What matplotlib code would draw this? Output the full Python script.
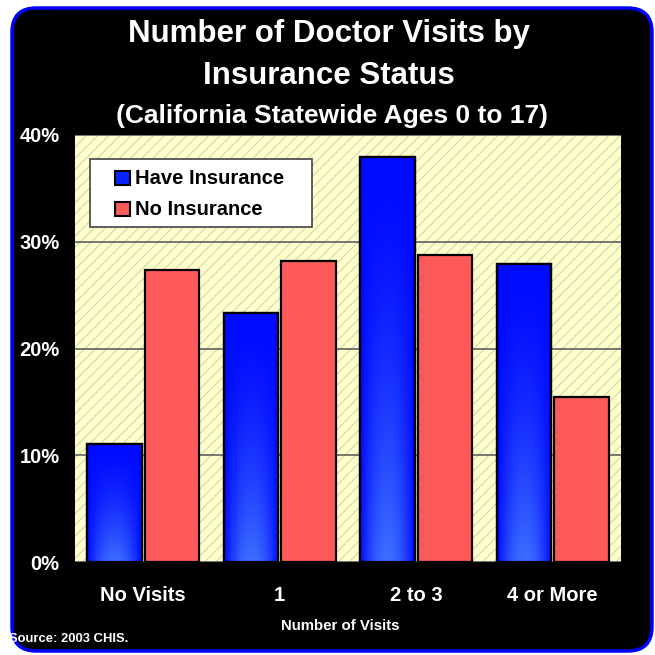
import numpy as np
import matplotlib
matplotlib.use('Agg')
from matplotlib import pyplot as plt
from matplotlib.patches import FancyBboxPatch, Rectangle

categories = ['No Visits', '1', '2 to 3', '4 or More']
have_insurance = [11.1, 23.3, 37.9, 27.9]
no_insurance = [27.4, 28.2, 28.8, 15.5]
series_names = ['Have Insurance', 'No Insurance']
y_ticks = [0, 10, 20, 30, 40]
y_labels = ['0%', '10%', '20%', '30%', '40%']

plt.rcParams['font.family'] = ['Liberation Sans', 'DejaVu Sans']
plt.rcParams['font.weight'] = 'bold'
plt.rcParams['hatch.color'] = '#c8c8a8'
plt.rcParams['hatch.linewidth'] = 0.6

W = H = 655
fig = plt.figure(figsize=(6.55, 6.55), dpi=100)
fig.patch.set_facecolor('white')

# rounded black panel with blue rim
panel = FancyBboxPatch((12 / W, 4 / H), 640 / W, 643 / H,
                       boxstyle='round,pad=0,rounding_size=0.037',
                       transform=fig.transFigure, facecolor='black',
                       edgecolor='#0000ff', linewidth=2.5, zorder=-1)
fig.patches.append(panel)

ax = fig.add_axes([75 / W, 1 - 562 / H, 546 / W, 427 / H])
ax.set_facecolor('#ffffcc')
ax.patch.set_hatch('///')
ax.patch.set_edgecolor('#c8c8a8')
ax.patch.set_linewidth(0)

blue = '#0a24ff'
red = '#ff5a5a'
x = np.arange(len(categories))
w = 0.40
off = 0.21
bars_have = ax.bar(x - off, have_insurance, w, color=blue,
                   edgecolor='black', linewidth=1.6, zorder=3)
bars_no = ax.bar(x + off, no_insurance, w, color=red,
                 edgecolor='black', linewidth=1.6, zorder=3)

# blue gradient: dark at top, lighter toward lower middle
ny, nx = 120, 40
yy = np.linspace(0, 1, ny)[:, None]
xx = np.linspace(-1, 1, nx)[None, :]
light = (1 - yy) ** 1.5 * (1 - np.abs(xx) ** 2)
light = np.clip(light, 0, 1)
dark = np.array([0, 10, 255]) / 255
bright = np.array([60, 110, 255]) / 255
img = dark[None, None, :] + (bright - dark)[None, None, :] * light[:, :, None]
for b in bars_have:
    x0, y0 = b.get_x(), b.get_y()
    im = ax.imshow(img[::-1], extent=[x0, x0 + b.get_width(), y0, y0 + b.get_height()],
                   aspect='auto', zorder=3.5, interpolation='bilinear')
    im.set_clip_path(b)
    edge = Rectangle((x0, y0), b.get_width(), b.get_height(), fill=False,
                     edgecolor='black', linewidth=1.6, zorder=4)
    ax.add_patch(edge)

ax.set_xlim(-0.5, len(categories) - 0.5)
ax.set_ylim(0, 40)
ax.set_yticks(y_ticks)
ax.set_yticklabels(y_labels)
ax.set_xticks(x)
ax.set_xticklabels(categories)
ax.tick_params(axis='y', length=0, pad=11, labelsize=14.5, labelcolor='white')
ax.tick_params(axis='x', length=0, pad=17, labelsize=14.5, labelcolor='white')
for lab in ax.get_xticklabels() + ax.get_yticklabels():
    lab.set_fontweight('bold')
ax.yaxis.grid(True, color='#606060', linewidth=1.2, zorder=1)
ax.set_axisbelow(True)
for s in ax.spines.values():
    s.set_visible(False)

# legend box drawn by hand (axes pixels -> axes fraction)
def fx(px):
    return (px - 75) / 546

def fy(py):
    return (562 - py) / 427

ax.add_patch(Rectangle((fx(90), fy(227)), fx(312) - fx(90), fy(159) - fy(227),
                       transform=ax.transAxes, facecolor='white', edgecolor='#505050',
                       linewidth=1.3, zorder=6))
for i, (name, col) in enumerate(zip(series_names, [blue, red])):
    top = 171 + i * 31
    ax.add_patch(Rectangle((fx(115), fy(top + 14)), fx(130) - fx(115), fy(top) - fy(top + 14),
                           transform=ax.transAxes, facecolor=col, edgecolor='black',
                           linewidth=1.5, zorder=7))
    ax.text(fx(135), fy(top + 7.5), name, transform=ax.transAxes, fontsize=14.5,
            fontweight='bold', color='black', ha='left', va='center', zorder=7)

fig.text(329 / W, 1 - 34 / H, 'Number of Doctor Visits by', color='white',
         fontsize=22.5, fontweight='bold', ha='center', va='center')
fig.text(329 / W, 1 - 76 / H, 'Insurance Status', color='white',
         fontsize=22.5, fontweight='bold', ha='center', va='center')
fig.text(332 / W, 1 - 116 / H, '(California Statewide Ages 0 to 17)', color='white',
         fontsize=19, fontweight='bold', ha='center', va='center')
fig.text(340 / W, 1 - 626 / H, 'Number of Visits', color='white',
         fontsize=10.8, fontweight='bold', ha='center', va='center')
fig.text(9 / W, 1 - 639 / H, 'Source: 2003 CHIS.', color='white',
         fontsize=9.4, fontweight='bold', ha='left', va='center')

fig.savefig('out.png', dpi=100, facecolor='white')
